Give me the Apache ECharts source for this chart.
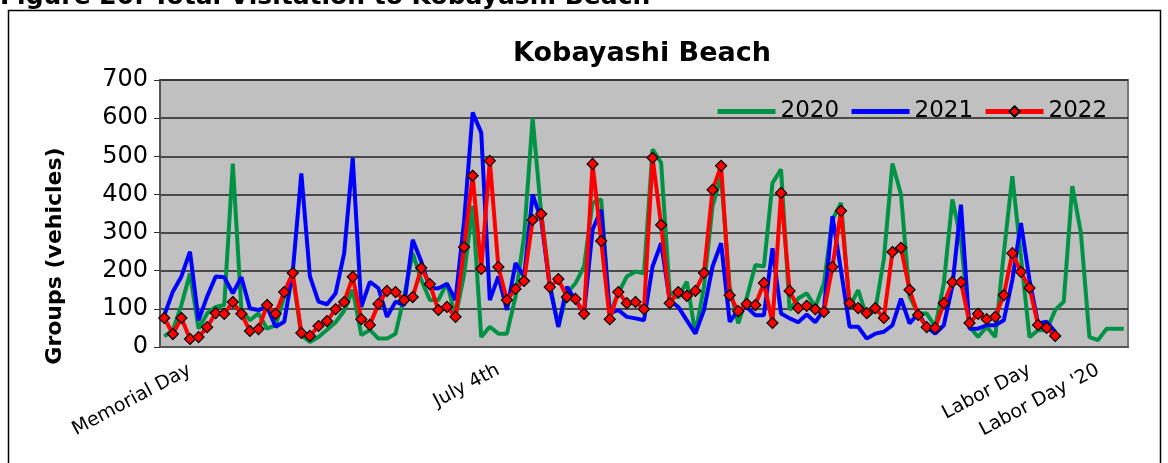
<!DOCTYPE html>
<html>
<head>
<meta charset="utf-8">
<script src="https://cdn.jsdelivr.net/npm/echarts@6/dist/echarts.min.js"></script>
<style>
  html, body { margin: 0; padding: 0; background: #fff; }
  #chart { width: 1168px; height: 463px; }
</style>
</head>
<body>
<div id="chart"></div>
<script>
// daily groups, first day = Memorial Day weekend
var y2020 = [28, 44, 110, 193, 48, 88, 105, 110, 481, 97, 70, 88, 48, 57, 132, 185, 31, 13, 26, 45,
  65, 95, 150, 31, 45, 22, 22, 35, 132, 246, 176, 123, 123, 168, 79, 190, 370, 26, 53, 35,
  35, 132, 290, 600, 351, 167, 53, 141, 167, 211, 378, 387, 88, 141, 185, 198, 193, 518, 483, 141,
  130, 171, 35, 158, 369, 448, 158, 62, 130, 215, 211, 430, 466, 97, 127, 141, 105, 167, 334, 378,
  105, 149, 79, 97, 230, 481, 400, 132, 88, 88, 53, 167, 387, 280, 53, 26, 53, 26, 246, 448,
  237, 26, 44, 44, 97, 119, 422, 299, 26, 18, 48, 48, 48];
var y2021 = [83, 145, 185, 250, 70, 132, 185, 183, 141, 183, 101, 97, 105, 53, 66, 198, 455, 185, 119, 112,
  141, 246, 496, 105, 171, 154, 79, 119, 110, 281, 224, 154, 154, 165, 123, 330, 615, 562, 123, 185,
  97, 220, 185, 400, 334, 158, 53, 158, 123, 88, 308, 360, 88, 97, 79, 75, 70, 211, 272, 123,
  105, 70, 35, 97, 211, 272, 66, 97, 105, 83, 83, 259, 88, 75, 65, 85, 65, 97, 343, 200,
  53, 53, 22, 35, 40, 57, 127, 62, 88, 53, 35, 57, 160, 373, 48, 48, 57, 57, 70, 176,
  325, 176, 62, 66, 40];
var y2022 = [76, 34, 76, 21, 26, 52, 89, 87, 118, 87, 42, 47, 110, 87, 144, 194, 37, 29, 55, 68,
  99, 118, 184, 73, 58, 113, 147, 144, 123, 131, 207, 165, 97, 105, 79, 262, 449, 205, 488, 210,
  123, 152, 173, 333, 349, 157, 178, 131, 126, 87, 480, 278, 73, 144, 115, 118, 99, 496, 320, 115,
  144, 134, 147, 194, 412, 475, 136, 94, 113, 110, 168, 63, 404, 147, 102, 108, 99, 92, 210, 357,
  115, 102, 89, 102, 76, 249, 260, 150, 84, 52, 50, 115, 170, 170, 63, 87, 73, 79, 136, 246,
  197, 155, 58, 50, 29];

var labelDays = [3, 39, 101, 109];
var labelText = ['Memorial Day', 'July 4th', 'Labor Day', "Labor Day '20"];

var days = [];
for (var i = 0; i < y2020.length; i++) {
  var k = labelDays.indexOf(i);
  days.push(k >= 0 ? labelText[k] : '');
}

var font = 'DejaVu Sans, Liberation Sans, Arial, sans-serif';
var myChart = echarts.init(document.getElementById('chart'));

var option = {
  animation: false,
  backgroundColor: '#fff',
  textStyle: { fontFamily: font },
  title: {
    text: 'Kobayashi Beach',
    left: 637,
    top: 35,
    textAlign: 'center',
    textStyle: { fontSize: 27, fontWeight: 'bold', color: '#000', fontFamily: font }
  },
  graphic: [
    {
      type: 'text',
      style: {
        x: 0, y: 10, verticalAlign: 'bottom',
        text: 'Figure 20: Total Visitation to Kobayashi Beach',
        font: 'bold 25px DejaVu Sans', fill: '#000'
      }
    },
    {
      type: 'text',
      rotation: Math.PI / 2,
      x: 55,
      y: 256,
      style: {
        text: 'Groups (vehicles)', align: 'center', verticalAlign: 'middle',
        font: 'bold 22px DejaVu Sans', fill: '#000'
      }
    },
    {
      type: 'polyline',
      shape: { points: [[8.5, 470], [8.5, 10.5], [1160.5, 10.5], [1160.5, 470]] },
      style: { stroke: '#000', lineWidth: 1.5, fill: null }
    }
  ],
  legend: {
    left: 710,
    top: 95,
    itemWidth: 58,
    itemHeight: 13,
    itemGap: 10,
    textStyle: { fontSize: 23, color: '#000', fontFamily: font },
    data: [
      { name: '2020', itemStyle: { opacity: 0 }, lineStyle: { width: 5 } },
      { name: '2021', itemStyle: { opacity: 0 }, lineStyle: { width: 5 } },
      { name: '2022', lineStyle: { width: 5 } }
    ]
  },
  grid: {
    left: 160,
    right: 40,
    top: 80,
    bottom: 116,
    show: true,
    backgroundColor: '#c0c0c0',
    borderColor: '#777',
    borderWidth: 2
  },
  xAxis: {
    type: 'category',
    data: days,
    boundaryGap: true,
    axisLine: { lineStyle: { color: '#555', width: 2 } },
    axisTick: { show: false },
    axisLabel: {
      interval: 0,
      rotate: 28,
      margin: 22,
      fontSize: 19,
      color: '#000'
    }
  },
  yAxis: {
    type: 'value',
    min: 0,
    max: 700,
    interval: 100,
    axisLine: { show: true, lineStyle: { color: '#555', width: 2 } },
    axisTick: { show: true, length: 6, lineStyle: { color: '#333' } },
    axisLabel: { fontSize: 24, color: '#000', margin: 12 },
    splitLine: { lineStyle: { color: '#222', width: 1.5 } }
  },
  series: [
    {
      name: '2020',
      type: 'line',
      data: y2020,
      symbol: 'none',
      lineStyle: { color: '#009245', width: 4 },
      itemStyle: { color: '#009245' }
    },
    {
      name: '2021',
      type: 'line',
      data: y2021,
      symbol: 'none',
      lineStyle: { color: '#0000ff', width: 4 },
      itemStyle: { color: '#0000ff' }
    },
    {
      name: '2022',
      type: 'line',
      data: y2022,
      symbol: 'diamond',
      symbolSize: 11,
      lineStyle: { color: '#ff0000', width: 4 },
      itemStyle: { color: '#ff0000', borderColor: '#000', borderWidth: 1.2 }
    }
  ]
};

myChart.setOption(option);
</script>
</body>
</html>
